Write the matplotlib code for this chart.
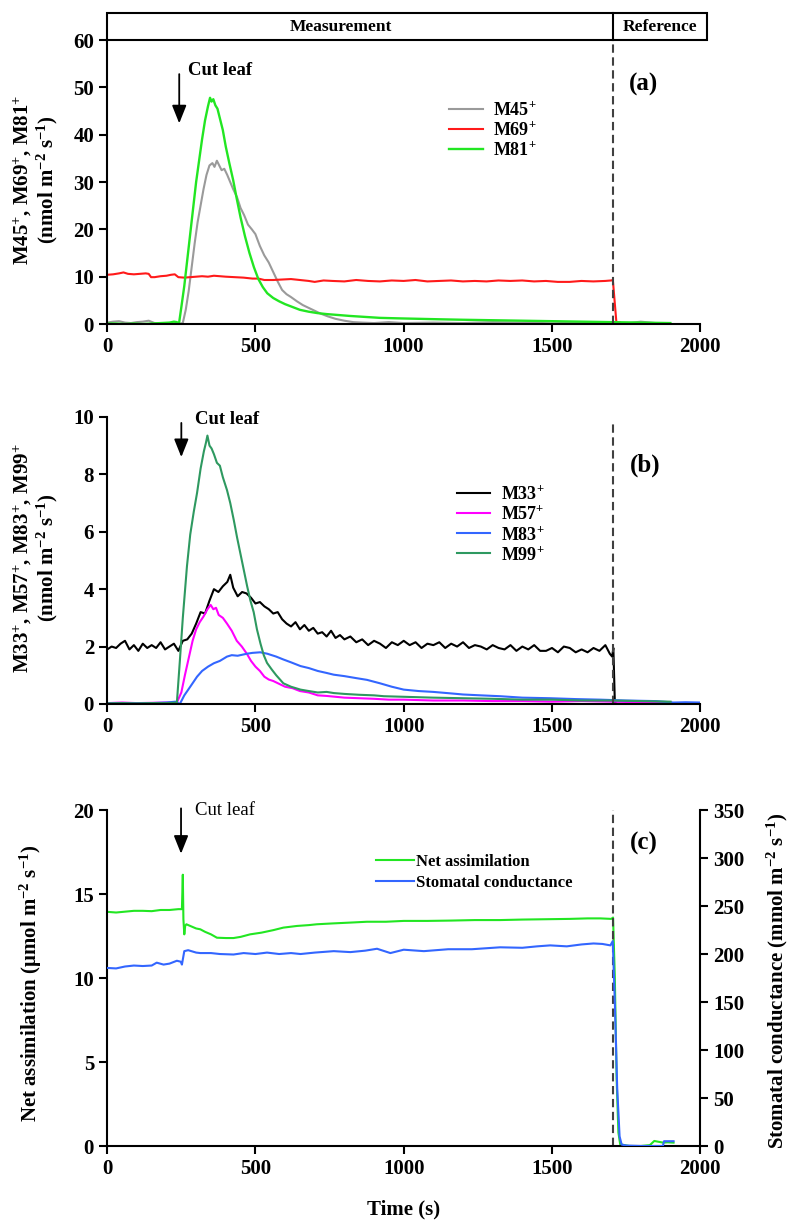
import matplotlib
matplotlib.use("Agg")
import matplotlib.pyplot as plt
import matplotlib.patches as mpatches
from matplotlib.lines import Line2D

plt.rcParams['font.family'] = ['Liberation Serif', 'DejaVu Serif']
plt.rcParams['font.weight'] = 'bold'
plt.rcParams['mathtext.fontset'] = 'custom'
plt.rcParams['mathtext.rm'] = 'Liberation Serif:bold'
plt.rcParams['mathtext.it'] = 'Liberation Serif:italic:bold'
plt.rcParams['mathtext.bf'] = 'Liberation Serif:bold'
plt.rcParams['mathtext.default'] = 'rm'
plt.rcParams['axes.linewidth'] = 1.5

# ---- panel (a) data ----
t45 = [0, 20, 40, 60, 80, 100, 120, 140, 160, 180, 200, 220, 240, 255, 265, 275, 285, 295, 305, 315,
       325, 335, 345, 355, 362, 370, 378, 386, 395, 405, 415, 425, 438, 450, 462, 475, 488, 500, 515, 530,
       545, 560, 575, 590, 605, 620, 640, 660, 680, 700, 720, 745, 770, 800, 830, 860, 900, 950, 1000, 1100,
       1200, 1300, 1400, 1500, 1600, 1700, 1750, 1800, 1850]
m45 = [0.3, 0.5, 0.6, 0.3, 0.2, 0.4, 0.5, 0.7, 0.2, 0.1, 0.1, 0.0, 0.0, 0.2, 3.0, 7.0, 12.0, 17.0, 21.5, 25.0,
       28.5, 31.5, 33.5, 34.0, 33.2, 34.5, 33.5, 32.5, 32.8, 31.5, 30.0, 28.5, 26.8, 24.5, 23.0, 21.0, 20.0, 19.0, 16.5, 14.5,
       13.0, 11.0, 9.0, 7.2, 6.3, 5.7, 4.8, 4.0, 3.4, 2.8, 2.2, 1.6, 1.1, 0.7, 0.4, 0.3, 0.2, 0.4, 0.2, 0.3,
       0.2, 0.4, 0.3, 0.5, 0.3, 0.4, 0.1, 0.5, 0.2]

t69 = [0, 20, 40, 55, 70, 90, 110, 130, 140, 148, 160, 180, 200, 215, 228, 240, 260, 280, 300, 320,
       340, 360, 380, 400, 430, 460, 490, 510, 530, 560, 590, 620, 650, 680, 700, 730, 760, 800, 840, 880,
       920, 960, 1000, 1040, 1080, 1120, 1160, 1200, 1240, 1280, 1320, 1360, 1400, 1440, 1480, 1520, 1560, 1600, 1640, 1680,
       1700, 1706, 1718, 1730]
m69 = [10.4, 10.5, 10.7, 10.9, 10.6, 10.5, 10.6, 10.7, 10.6, 9.9, 9.9, 10.1, 10.2, 10.4, 10.5, 9.9, 9.8, 9.9, 10.0, 10.1,
       10.0, 10.2, 10.1, 10.0, 9.9, 9.8, 9.6, 9.6, 9.3, 9.3, 9.4, 9.5, 9.3, 9.1, 8.9, 9.2, 9.1, 9.0, 9.3, 9.1,
       9.0, 9.2, 9.1, 9.3, 9.0, 9.1, 9.2, 9.0, 9.1, 9.0, 9.2, 9.1, 9.2, 9.0, 9.1, 8.9, 8.9, 9.1, 9.0, 9.1,
       9.2, 9.3, 0.3, 0.3]

t81 = [0, 30, 60, 90, 120, 150, 180, 210, 225, 235, 242, 250, 260, 270, 280, 290, 300, 310, 320, 330,
       340, 347, 352, 358, 365, 372, 380, 390, 400, 412, 425, 437, 450, 465, 480, 495, 510, 525, 540, 560,
       580, 600, 625, 650, 680, 710, 740, 780, 820, 870, 920, 980, 1050, 1120, 1200, 1300, 1400, 1500, 1600, 1700,
       1800, 1900]
m81 = [0.1, 0.1, 0.0, 0.1, 0.0, 0.1, 0.2, 0.3, 0.5, 0.4, 0.0, 3.5, 8.0, 13.5, 19.0, 24.5, 30.0, 34.5, 39.0, 43.0,
       46.0, 47.8, 47.0, 47.5, 46.2, 45.5, 43.5, 41.0, 37.5, 34.0, 30.4, 26.5, 22.5, 18.5, 15.0, 12.0, 9.5, 7.8, 6.5, 5.5,
       4.8, 4.2, 3.6, 3.0, 2.6, 2.3, 2.1, 1.9, 1.7, 1.5, 1.3, 1.2, 1.1, 1.0, 0.9, 0.8, 0.7, 0.6, 0.5, 0.4,
       0.3, 0.2]

# ---- panel (b) data ----
t33 = [0, 15, 30, 45, 60, 75, 90, 105, 120, 135, 150, 165, 180, 195, 210, 225, 240, 255, 270, 285,
       300, 315, 330, 345, 360, 375, 390, 405, 415, 425, 440, 455, 470, 485, 500, 515, 530, 545, 560, 575,
       590, 605, 620, 635, 650, 665, 680, 695, 710, 725, 740, 755, 770, 785, 800, 820, 840, 860, 880, 900,
       920, 940, 960, 980, 1000, 1020, 1040, 1060, 1080, 1100, 1120, 1140, 1160, 1180, 1200, 1220, 1240, 1260, 1280, 1300,
       1320, 1340, 1360, 1380, 1400, 1420, 1440, 1460, 1480, 1500, 1520, 1540, 1560, 1580, 1600, 1620, 1640, 1660, 1680, 1695,
       1703, 1707, 1712, 1720, 1730]
m33 = [1.90, 2.00, 1.95, 2.10, 2.20, 1.90, 2.05, 1.85, 2.10, 1.95, 2.05, 1.95, 2.15, 1.90, 2.00, 2.10, 1.85, 2.20, 2.25, 2.45,
       2.80, 3.20, 3.15, 3.60, 4.00, 3.90, 4.10, 4.25, 4.50, 4.05, 3.75, 3.90, 3.85, 3.70, 3.50, 3.55, 3.40, 3.30, 3.15, 3.20,
       2.95, 2.80, 2.70, 2.85, 2.60, 2.75, 2.55, 2.65, 2.45, 2.50, 2.35, 2.55, 2.30, 2.40, 2.25, 2.35, 2.15, 2.25, 2.05, 2.20,
       2.10, 1.95, 2.15, 2.05, 2.20, 2.05, 2.15, 1.95, 2.10, 2.05, 2.15, 1.95, 2.10, 2.00, 2.15, 1.95, 2.05, 2.00, 1.90, 2.05,
       1.95, 1.90, 2.05, 1.85, 2.00, 1.90, 2.05, 1.85, 1.85, 1.95, 1.80, 2.00, 1.95, 1.80, 1.90, 1.80, 1.95, 1.85, 2.05, 1.75,
       1.65, 1.95, 0.05, 0.0, 0.0]

t57 = [0, 50, 100, 150, 200, 235, 250, 262, 275, 288, 300, 312, 325, 338, 349, 358, 367, 376, 390, 404,
       420, 437, 454, 471, 485, 500, 515, 530, 545, 560, 580, 600, 625, 650, 680, 710, 740, 770, 800, 850,
       900, 950, 1000, 1100, 1200, 1300, 1400, 1500, 1600, 1700, 1800, 1900]
m57 = [0.03, 0.05, 0.03, 0.04, 0.05, 0.05, 0.4, 1.0, 1.6, 2.2, 2.6, 2.85, 3.05, 3.3, 3.45, 3.3, 3.35, 3.1, 3.0, 2.8,
       2.55, 2.2, 2.0, 1.75, 1.5, 1.3, 1.15, 0.95, 0.85, 0.8, 0.7, 0.6, 0.55, 0.45, 0.4, 0.3, 0.28, 0.25, 0.22, 0.2,
       0.18, 0.15, 0.15, 0.12, 0.12, 0.1, 0.1, 0.08, 0.1, 0.08, 0.06, 0.05]

t83 = [0, 50, 100, 150, 200, 230, 245, 260, 280, 303, 320, 340, 360, 380, 404, 420, 440, 471, 490, 516,
       540, 570, 594, 620, 652, 680, 710, 740, 764, 800, 840, 876, 920, 960, 1000, 1050, 1100, 1157, 1200, 1260,
       1325, 1400, 1494, 1580, 1663, 1750, 1850, 1910, 1950, 2000]
m83 = [0.02, 0.03, 0.02, 0.03, 0.05, 0.08, 0.0, 0.3, 0.6, 0.95, 1.15, 1.3, 1.42, 1.5, 1.65, 1.7, 1.68, 1.75, 1.78, 1.8,
       1.75, 1.65, 1.55, 1.45, 1.32, 1.25, 1.15, 1.08, 1.02, 0.97, 0.9, 0.84, 0.72, 0.6, 0.5, 0.45, 0.42, 0.37, 0.33, 0.3,
       0.27, 0.22, 0.2, 0.17, 0.15, 0.12, 0.1, 0.05, 0.06, 0.05]

t99 = [0, 50, 100, 150, 200, 235, 245, 255, 269, 280, 292, 303, 315, 326, 333, 338, 345, 352, 360, 370,
       380, 390, 404, 415, 427, 438, 449, 460, 472, 483, 494, 505, 517, 528, 539, 555, 570, 594, 620, 652,
       680, 710, 740, 764, 800, 850, 900, 933, 1000, 1100, 1200, 1300, 1400, 1500, 1600, 1700, 1800, 1900]
m99 = [0.02, 0.03, 0.02, 0.03, 0.03, 0.05, 1.5, 3.0, 4.8, 5.9, 6.7, 7.35, 8.2, 8.8, 9.1, 9.35, 9.0, 8.9, 8.7, 8.4,
       8.3, 7.9, 7.45, 7.0, 6.4, 5.8, 5.25, 4.7, 4.1, 3.6, 3.2, 2.6, 2.1, 1.7, 1.43, 1.2, 1.0, 0.72, 0.6, 0.5,
       0.45, 0.4, 0.42, 0.38, 0.35, 0.32, 0.3, 0.27, 0.25, 0.22, 0.2, 0.18, 0.15, 0.15, 0.12, 0.12, 0.1, 0.08]

# ---- panel (c) data ----
tA = [0, 30, 60, 90, 120, 150, 180, 210, 240, 252, 255, 257, 260, 263, 267, 280, 300, 314, 330, 350,
      370, 400, 426, 450, 482, 520, 560, 594, 640, 680, 707, 760, 820, 876, 940, 1000, 1080, 1160, 1240, 1325,
      1400, 1480, 1560, 1620, 1663, 1700, 1706, 1712, 1718, 1724, 1730, 1760, 1800, 1830, 1845, 1860, 1875, 1890, 1910]
net_assim = [13.94, 13.9, 13.95, 14.0, 14.0, 13.98, 14.05, 14.05, 14.1, 14.1, 16.15, 13.5, 12.6, 13.1, 13.2, 13.1, 12.95, 12.9, 12.75, 12.6,
             12.4, 12.38, 12.38, 12.45, 12.6, 12.7, 12.85, 13.0, 13.1, 13.15, 13.2, 13.25, 13.3, 13.35, 13.35, 13.4, 13.4, 13.42, 13.45, 13.45,
             13.48, 13.5, 13.52, 13.55, 13.55, 13.52, 13.6, 10.0, 4.0, 0.8, 0.1, 0.0, 0.0, 0.05, 0.3, 0.25, 0.2, 0.22, 0.2]

tG = [0, 30, 60, 90, 120, 150, 167, 190, 210, 235, 248, 252, 256, 260, 273, 300, 314, 350, 380, 426,
      460, 500, 539, 580, 620, 652, 700, 764, 820, 870, 910, 935, 955, 1000, 1068, 1150, 1230, 1325, 1400, 1450,
      1494, 1550, 1600, 1640, 1670, 1697, 1705, 1712, 1720, 1728, 1735, 1750, 1800, 1874, 1878, 1910]
stom_cond = [185.5, 185, 187, 188, 187.5, 188, 191, 189, 190, 193, 192, 189, 196, 203, 204, 201.5, 201, 201, 200, 199.5,
             201, 200, 201.5, 200, 201, 200, 201.5, 203, 202, 203.5, 205.5, 203, 201, 204.5, 203, 205, 205, 207, 206.5, 208,
             209, 208, 210, 211, 210.5, 209, 213.5, 150, 60, 10, 1.5, 0.5, 0, 0, 5, 5]

x_ticks = [0, 500, 1000, 1500, 2000]
ref_time = 1705

GRAY = '#9a9a9a'
RED = '#ff1a1a'
LIME = '#22e622'
MAGENTA = '#ff00ff'
BLUE = '#3366ff'
SEA = '#2e9960'
DASH = '#404040'


def style_axis(ax, ylim, yticks):
    ax.set_xlim(0, 2000)
    ax.set_ylim(*ylim)
    ax.set_xticks(x_ticks)
    ax.set_yticks(yticks)
    ax.spines['top'].set_visible(False)
    ax.spines['right'].set_visible(False)
    ax.tick_params(direction='out', length=6, width=1.5, labelsize=15)
    for lab in ax.get_xticklabels() + ax.get_yticklabels():
        lab.set_fontweight('bold')


def cut_arrow(ax, x, y0, y1, tx, ty, weight='bold'):
    ax.annotate('', xy=(x, y1), xytext=(x, y0),
                arrowprops=dict(arrowstyle='-|>,head_length=0.55,head_width=0.22', mutation_scale=20,
                                lw=1.3, color='black', shrinkA=0, shrinkB=0), annotation_clip=False)
    ax.text(tx, ty, 'Cut leaf', fontsize=13.5, fontweight=weight, ha='left', va='center')


fig = plt.figure(figsize=(8, 12.32), dpi=100)

# ---------- (a) ----------
ax1 = fig.add_axes([0.134, 0.737, 0.741, 0.2305])
ax1.plot(t45, m45, color=GRAY, lw=1.5, label='M45$^{+}$')
ax1.plot(t69, m69, color=RED, lw=1.5, label='M69$^{+}$')
ax1.plot(t81, m81, color=LIME, lw=1.7, label='M81$^{+}$')
ax1.axvline(ref_time, color=DASH, lw=1.5, dashes=(4, 2.2))
style_axis(ax1, (0, 60), range(0, 61, 10))
cut_arrow(ax1, 243, 52.8, 42.4, 273, 53.6)
ax1.text(1808, 50.6, '(a)', fontsize=18, fontweight='bold', ha='center', va='center')
ax1.legend(loc='upper left', bbox_to_anchor=(0.577, 0.785), frameon=False, fontsize=13,
           handlelength=1.85, handletextpad=0.6, labelspacing=0.12, borderpad=0, borderaxespad=0)

# banner above panel (a)
band_h = 27 / 284
x_end = 2000 * 600 / 593
ax1.add_patch(mpatches.Rectangle((0, 60), x_end, 60 * band_h, fill=False, lw=1.5,
                                 edgecolor='black', clip_on=False))
ax1.plot([ref_time, ref_time], [60, 60 * (1 + band_h)], color='black', lw=1.5, clip_on=False)
ax1.text(789, 60 * (1 + band_h / 2), 'Measurement', fontsize=12.5, fontweight='bold',
         ha='center', va='center')
ax1.text(1864, 60 * (1 + band_h / 2), 'Reference', fontsize=12.5, fontweight='bold',
         ha='center', va='center')

# ---------- (b) ----------
ax2 = fig.add_axes([0.134, 0.4286, 0.7413, 0.233])
ax2.plot(t33, m33, color='black', lw=1.5, label='M33$^{+}$')
ax2.plot(t57, m57, color=MAGENTA, lw=1.5, label='M57$^{+}$')
ax2.plot(t83, m83, color=BLUE, lw=1.5, label='M83$^{+}$')
ax2.plot(t99, m99, color=SEA, lw=1.5, label='M99$^{+}$')
ax2.plot([ref_time, ref_time], [0, 9.78], color=DASH, lw=1.5, dashes=(4, 2.2))
style_axis(ax2, (0, 10), range(0, 11, 2))
cut_arrow(ax2, 250, 9.79, 8.6, 297, 9.92)
ax2.text(1815, 8.33, '(b)', fontsize=18, fontweight='bold', ha='center', va='center')
ax2.legend(loc='upper left', bbox_to_anchor=(0.59, 0.762), frameon=False, fontsize=13,
           handlelength=1.85, handletextpad=0.6, labelspacing=0.12, borderpad=0, borderaxespad=0)

# ---------- (c) ----------
ax3 = fig.add_axes([0.134, 0.0698, 0.7413, 0.2727])
ax3.plot(tA, net_assim, color=LIME, lw=1.5)
ax3.axvline(ref_time, color=DASH, lw=1.5, dashes=(4, 2.2))
style_axis(ax3, (0, 20), range(0, 21, 5))
cut_arrow(ax3, 249, 20.1, 17.4, 297, 20.0, weight='normal')
ax3.text(1810, 18.0, '(c)', fontsize=18, fontweight='bold', ha='center', va='center')

ax3r = ax3.twinx()
ax3r.plot(tG, stom_cond, color=BLUE, lw=1.5)
ax3r.set_xlim(0, 2000)
ax3r.set_ylim(0, 350)
ax3r.set_yticks(range(0, 351, 50))
for s in ['top', 'left', 'bottom']:
    ax3r.spines[s].set_visible(False)
ax3r.spines['right'].set_linewidth(1.5)
ax3r.tick_params(direction='out', length=6, width=1.5, labelsize=15)
for lab in ax3r.get_yticklabels():
    lab.set_fontweight('bold')

handles = [Line2D([], [], color=LIME, lw=1.5), Line2D([], [], color=BLUE, lw=1.5)]
ax3.legend(handles, ['Net assimilation', 'Stomatal conductance'], loc='upper left',
           bbox_to_anchor=(0.454, 0.87), frameon=False, fontsize=12, handlelength=2.25,
           handletextpad=0.12, labelspacing=0.3, borderpad=0, borderaxespad=0)

# ---------- axis labels ----------
fig.text(0.045, 0.854, 'M45$^{+}$, M69$^{+}$, M81$^{+}$\n(nmol m$^{-2}$ s$^{-1}$)', rotation=90,
         ha='center', va='center', fontsize=15, fontweight='bold', linespacing=1.0)
fig.text(0.045, 0.547, 'M33$^{+}$, M57$^{+}$, M83$^{+}$, M99$^{+}$\n(nmol m$^{-2}$ s$^{-1}$)', rotation=90,
         ha='center', va='center', fontsize=15, fontweight='bold', linespacing=1.0)
fig.text(0.039, 0.202, 'Net assimilation (μmol m$^{-2}$ s$^{-1}$)', rotation=90,
         ha='center', va='center', fontsize=15, fontweight='bold')
fig.text(0.972, 0.204, 'Stomatal conductance (mmol m$^{-2}$ s$^{-1}$)', rotation=90,
         ha='center', va='center', fontsize=15, fontweight='bold')
fig.text(0.504, 0.018, 'Time (s)', ha='center', va='center', fontsize=15, fontweight='bold')

fig.savefig('out.png', dpi=100)
